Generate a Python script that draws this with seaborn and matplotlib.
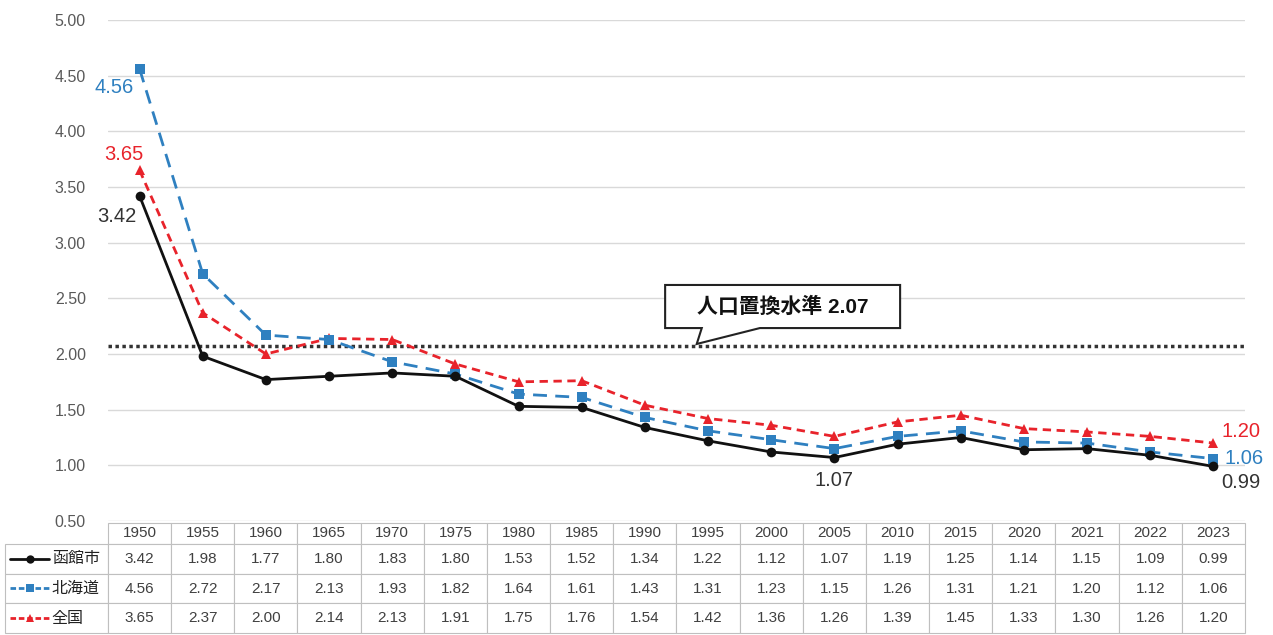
import numpy as np
import pandas as pd
import seaborn as sns
import matplotlib.pyplot as plt
from matplotlib.lines import Line2D
from matplotlib.patches import Polygon
from matplotlib.ticker import FormatStrFormatter

years = ["1950", "1955", "1960", "1965", "1970", "1975", "1980", "1985", "1990",
         "1995", "2000", "2005", "2010", "2015", "2020", "2021", "2022", "2023"]
hakodate = [3.42, 1.98, 1.77, 1.80, 1.83, 1.80, 1.53, 1.52, 1.34,
            1.22, 1.12, 1.07, 1.19, 1.25, 1.14, 1.15, 1.09, 0.99]
hokkaido = [4.56, 2.72, 2.17, 2.13, 1.93, 1.82, 1.64, 1.61, 1.43,
            1.31, 1.23, 1.15, 1.26, 1.31, 1.21, 1.20, 1.12, 1.06]
zenkoku = [3.65, 2.37, 2.00, 2.14, 2.13, 1.91, 1.75, 1.76, 1.54,
           1.42, 1.36, 1.26, 1.39, 1.45, 1.33, 1.30, 1.26, 1.20]
names = ["函館市", "北海道", "全国"]
replacement = 2.07
yticks = [0.5, 1.0, 1.5, 2.0, 2.5, 3.0, 3.5, 4.0, 4.5, 5.0]

colors = {"函館市": "#111111", "北海道": "#2f80c0", "全国": "#e8232b"}
markers = {"函館市": "o", "北海道": "s", "全国": "^"}
dashes = {"函館市": "", "北海道": (5, 3), "全国": (3, 2)}

sns.set_style("white")
plt.rcParams['font.family'] = ['Liberation Sans', 'Noto Sans CJK JP']

series = [hakodate, hokkaido, zenkoku]
df = pd.DataFrame({
    "year": years * 3,
    "tfr": hakodate + hokkaido + zenkoku,
    "area": np.repeat(names, len(years)),
})

W, H = 1273, 635
fig = plt.figure(figsize=(W / 100, H / 100), dpi=100)
ax = fig.add_axes([108 / W, 1 - 521 / H, 1137 / W, 501 / H])

sns.lineplot(data=df, x="year", y="tfr", hue="area", style="area",
             hue_order=["全国", "北海道", "函館市"], palette=colors,
             markers=markers, dashes=dashes, lw=2, markersize=7,
             markeredgewidth=0, legend=False, ax=ax)

ax.axhline(replacement, color="#333333", ls=(0, (1, 1)), lw=2.5, zorder=1)

ax.set_xlim(-0.5, len(years) - 0.5)
ax.set_ylim(0.5, 5.0)
ax.set_yticks(yticks)
ax.yaxis.set_major_formatter(FormatStrFormatter("%.2f"))
ax.tick_params(axis="y", length=0, pad=16, labelsize=11.5, labelcolor="#595959")
ax.set_xticks([])
ax.set_xlabel("")
ax.set_ylabel("")
ax.grid(axis="y", color="#d9d9d9", lw=1)
ax.set_axisbelow(True)
for s in ax.spines.values():
    s.set_visible(False)

# data labels
last = len(years) - 1
lab = [
    (0, hokkaido[0], "北海道", (-18, -13)),
    (0, zenkoku[0], "全国", (-11, 11.5)),
    (0, hakodate[0], "函館市", (-16.5, -14.5)),
    (11, hakodate[11], "函館市", (0, -16.5)),
    (last, zenkoku[last], "全国", (20, 8)),
    (last, hokkaido[last], "北海道", (22, 0)),
    (last, hakodate[last], "函館市", (20, -11.5)),
]
for i, v, n, off in lab:
    ax.annotate(f"{v:.2f}", (i, v), xytext=off, textcoords="offset points",
                ha="center", va="center", fontsize=14.5,
                color=colors[n] if n != "函館市" else "#333333")

# callout
x0, x1, yt, yb = 8.32, 12.04, 2.62, 2.233
bubble = Polygon([(x0, yt), (x1, yt), (x1, yb), (9.82, yb), (8.82, replacement + 0.02),
                  (8.90, yb), (x0, yb)], closed=True, fc="white", ec="#222222", lw=1.5, zorder=5)
ax.add_patch(bubble)
ax.text((x0 + x1) / 2, (yt + yb) / 2, f"人口置換水準 {replacement:.2f}", ha="center", va="center",
        fontsize=15, fontweight="bold", color="#111111", zorder=6)

# data table
cell_text = [[""] + [f"{v:.2f}" for v in s] for s in series]
lw = 103 / 1137
tab = ax.table(cellText=cell_text, colLabels=[""] + years, cellLoc="center",
               colWidths=[lw] + [1 / len(years)] * len(years),
               bbox=[-lw, -0.2236, 1 + lw, 0.2196])
tab.auto_set_font_size(False)
for (r, c), cell in tab.get_celld().items():
    cell.set_edgecolor("#bfbfbf")
    cell.set_linewidth(0.8)
    cell.set_height(21 if r == 0 else 29.7)
    cell.get_text().set_fontsize(11)
    cell.get_text().set_color("#404040")
tab[(0, 0)].visible_edges = ""
for r, n in enumerate(names, start=1):
    cell = tab[(r, 0)]
    cell.get_text().set_text(n)
    cell.get_text().set_ha("left")
    cell.PAD = 0.455
    cell.get_text().set_fontsize(11.5)
    cell.get_text().set_color("#222222")

row_y = [559, 588, 618]
for n, yy in zip(names, row_y):
    y = 1 - yy / H
    xs = [10 / W, 30 / W, 49 / W]
    fig.add_artist(Line2D(xs, [y] * 3, color=colors[n], lw=2,
                          ls="-" if n == "函館市" else (0, (2, 1)),
                          marker=markers[n], markevery=[1], markersize=6, markeredgewidth=0))

fig.savefig("out.png", dpi=100)
